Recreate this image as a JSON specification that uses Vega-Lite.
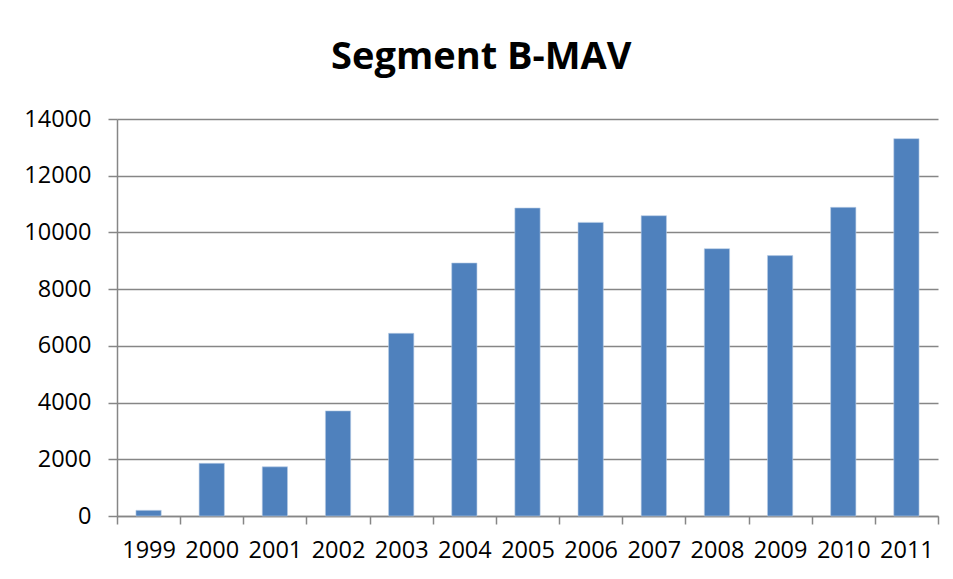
{
  "$schema": "https://vega.github.io/schema/vega-lite/v6.json",
  "width": 821,
  "height": 397,
  "autosize": {"type": "none"},
  "padding": {"left": 117, "top": 119, "right": 15, "bottom": 63},
  "background": "white",
  "title": {
    "text": "Segment B-MAV",
    "font": "Open Sans",
    "fontWeight": "bold",
    "fontSize": 38,
    "color": "black",
    "anchor": "middle",
    "frame": "bounds",
    "offset": 30
  },
  "data": {
    "values": [
      {"year": "1999", "value": 200},
      {"year": "2000", "value": 1858},
      {"year": "2001", "value": 1734},
      {"year": "2002", "value": 3707},
      {"year": "2003", "value": 6442},
      {"year": "2004", "value": 8923},
      {"year": "2005", "value": 10861},
      {"year": "2006", "value": 10354},
      {"year": "2007", "value": 10590},
      {"year": "2008", "value": 9427},
      {"year": "2009", "value": 9182},
      {"year": "2010", "value": 10885},
      {"year": "2011", "value": 13307}
    ]
  },
  "mark": {"type": "bar", "color": "#4F81BD", "width": {"band": 0.4}, "stroke": "#B9CDE5", "strokeWidth": 0.6},
  "encoding": {
    "x": {
      "field": "year",
      "type": "nominal",
      "sort": null,
      "scale": {"paddingInner": 0, "paddingOuter": 0},
      "axis": {
        "title": null,
        "labelAngle": 0,
        "labelFont": "Open Sans",
        "labelFontSize": 23.5,
        "labelColor": "black",
        "labelPadding": 14,
        "tickBand": "extent",
        "tickSize": 8,
        "tickColor": "#868686",
        "tickWidth": 1.5,
        "domainColor": "#868686",
        "domainWidth": 1.5,
        "grid": false
      }
    },
    "y": {
      "field": "value",
      "type": "quantitative",
      "scale": {"domain": [0, 14000], "nice": false},
      "axis": {
        "title": null,
        "values": [0, 2000, 4000, 6000, 8000, 10000, 12000, 14000],
        "format": "d",
        "labelFont": "Open Sans",
        "labelFontSize": 23.5,
        "labelColor": "black",
        "labelPadding": 17,
        "tickSize": 9,
        "tickColor": "#868686",
        "tickWidth": 1.5,
        "domainColor": "#868686",
        "domainWidth": 1.5,
        "grid": true,
        "gridColor": "#868686",
        "gridWidth": 1.5
      }
    }
  },
  "config": {"view": {"stroke": null}}
}
